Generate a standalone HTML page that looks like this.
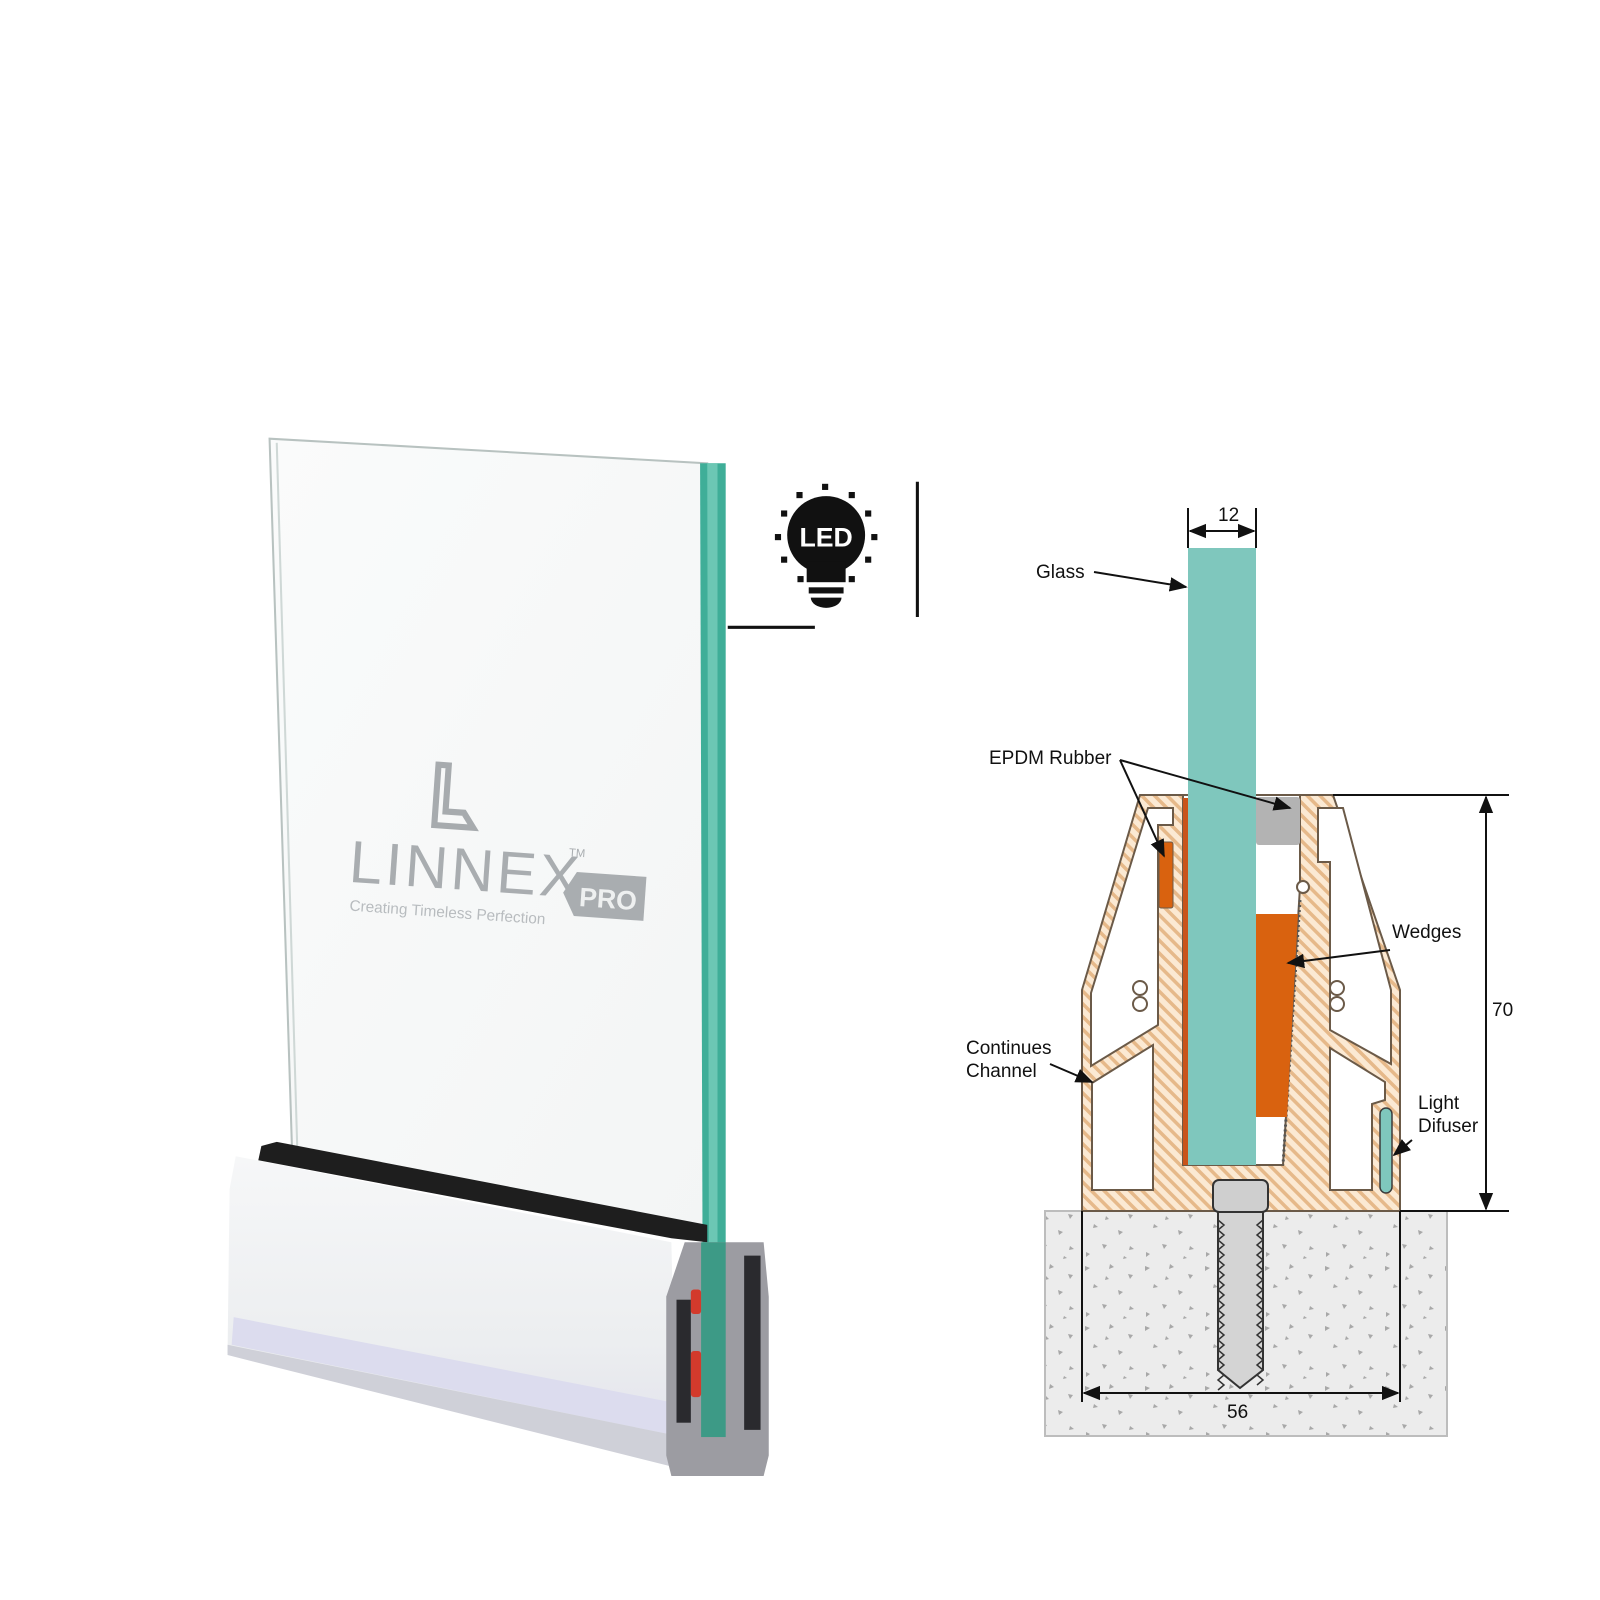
<!DOCTYPE html>
<html><head><meta charset="utf-8"><style>
html,body{margin:0;padding:0;background:#fff}
svg{display:block}
text{font-family:"Liberation Sans",sans-serif}
</style></head><body>
<svg width="1600" height="1600" viewBox="0 0 1600 1600" xmlns="http://www.w3.org/2000/svg">
<defs>
<pattern id="hatch" width="9" height="9" patternUnits="userSpaceOnUse" patternTransform="rotate(-45)">
<rect width="9" height="9" fill="#fbe9d3"/><rect width="3.5" height="9" fill="#e6b98a"/>
</pattern>
<pattern id="conc" width="60" height="60" patternUnits="userSpaceOnUse">
<rect width="60" height="60" fill="#ececec"/>
<path d="M5 6l5 2-5 3z M30 4l4 3-5 2z M48 14l5 1-3 4z M14 24l4 3-5 1z M38 30l5 2-4 3z M22 44l5 1-3 4z M50 46l4 3-5 1z M6 52l4 2-4 3z M26 16l3 3-4 1z M44 56l3 2-4 1z" fill="#a8a8a8"/>
</pattern>
<linearGradient id="face" x1="0" y1="0" x2="1" y2="1">
<stop offset="0" stop-color="#fafbfb"/><stop offset="1" stop-color="#f3f5f5"/></linearGradient>
<linearGradient id="base" x1="0" y1="0" x2="0" y2="1">
<stop offset="0" stop-color="#f6f7f8"/><stop offset="0.6" stop-color="#eceef0"/><stop offset="1" stop-color="#e0e0ea"/></linearGradient>
<marker id="ar" viewBox="0 0 10 10" refX="9" refY="5" markerWidth="9" markerHeight="9" orient="auto-start-reverse"><path d="M0 1L10 5L0 9z" fill="#111"/></marker>
</defs>

<g transform="scale(1.025)">
<polygon points="263,428 690,452 700,1200 285,1125" fill="url(#face)" stroke="#b8c2c0" stroke-width="2"/>
<line x1="270" y1="432" x2="290" y2="1120" stroke="#cfd8d6" stroke-width="2"/>
<polygon points="683,452 708,452 708,1405 686,1408" fill="#3fae98"/>
<polygon points="690,452 700,452 700,1405 692,1405" fill="#6cc7b4"/>
<g transform="rotate(4 480 860)" fill="#a7abae">
<path d="M420 750 h10 v45 h18 l10 14 h-38z" fill="none" stroke="#a7abae" stroke-width="6"/>
<text x="340" y="870" font-size="58" letter-spacing="3" fill="#a9adb0">LINNEX</text>
<text x="553" y="830" font-size="11" fill="#a9adb0">TM</text>
<polygon points="562,845 630,845 630,888 562,888 550,866" fill="#a9adb0"/>
<text x="566" y="878" font-size="26" font-weight="bold" fill="#eef0f0">PRO</text>
<text x="343" y="898" font-size="15" fill="#b8bcbf">Creating Timeless Perfection</text>
</g>
<polygon points="230,1128 655,1212 660,1430 222,1320 224,1160" fill="url(#base)"/>
<polygon points="228,1285 655,1368 657,1400 226,1312" fill="#dcdcee"/>
<polygon points="222,1312 657,1400 660,1432 222,1322" fill="#cfd0d8"/>
<polygon points="255,1118 270,1114 690,1195 690,1212 655,1208 252,1132" fill="#1e1e1e"/>
<polygon points="650,1265 668,1212 745,1212 750,1265 750,1420 745,1440 655,1440 650,1420" fill="#9c9ca2"/>
<rect x="660" y="1268" width="14" height="120" fill="#2a2a2e"/>
<rect x="726" y="1225" width="16" height="170" fill="#2a2a2e"/>
<rect x="684" y="1212" width="24" height="190" fill="#3d9a86"/>
<rect x="674" y="1258" width="10" height="24" rx="3" fill="#d33a2c"/>
<rect x="674" y="1318" width="10" height="45" rx="3" fill="#d33a2c"/>
<line x1="710" y1="612" x2="795" y2="612" stroke="#111" stroke-width="3"/>
<line x1="895" y1="470" x2="895" y2="602" stroke="#111" stroke-width="3"/>
<circle cx="806" cy="522" r="38" fill="#111"/>
<rect x="787" y="548" width="38" height="20" fill="#111"/>
<rect x="789" y="573" width="34" height="6" fill="#111"/>
<path d="M791 583 h30 a15 10 0 0 1 -30 0z" fill="#111"/>
<text x="806" y="533" font-size="26" font-weight="bold" fill="#fff" text-anchor="middle">LED</text>
<g fill="#111">
<rect x="802" y="472" width="6" height="6"/><rect x="777" y="480" width="6" height="6"/><rect x="828" y="480" width="6" height="6"/>
<rect x="762" y="498" width="6" height="6"/><rect x="844" y="498" width="6" height="6"/>
<rect x="756" y="521" width="6" height="6"/><rect x="850" y="521" width="6" height="6"/>
<rect x="762" y="543" width="6" height="6"/><rect x="844" y="543" width="6" height="6"/>
<rect x="778" y="562" width="6" height="6"/><rect x="828" y="562" width="6" height="6"/>
</g>
</g>

<rect x="1045" y="1211" width="402" height="225" fill="url(#conc)" stroke="#bdbdbd" stroke-width="2"/>
<polygon points="1140,795 1333,795 1400,990 1400,1211 1082,1211 1082,990" fill="url(#hatch)" stroke="#6b5a48" stroke-width="2"/>
<g fill="#fff" stroke="#6b5a48" stroke-width="2">
<polygon points="1148,808 1173,808 1173,825 1158,825 1158,1025 1091,1066 1091,993"/>
<polygon points="1092,1083 1153,1045 1153,1190 1092,1190"/>
<polygon points="1318,808 1343,808 1391,990 1391,1064 1330,1030 1330,862 1318,862"/>
<polygon points="1330,1048 1385,1082 1385,1100 1372,1104 1372,1190 1330,1190"/>
<polygon points="1183,795 1300,795 1300,887 1283,1165 1183,1165"/>
<circle cx="1140" cy="988" r="7"/><circle cx="1140" cy="1004" r="7"/>
<circle cx="1337" cy="988" r="7"/><circle cx="1337" cy="1004" r="7"/>
<circle cx="1303" cy="887" r="6"/>
</g>
<path d="M1300 900 l-17 265" stroke="#555" stroke-width="3" stroke-dasharray="2 3" fill="none"/>
<rect x="1183" y="798" width="6" height="367" fill="#c9541a"/>
<rect x="1159" y="842" width="14" height="66" rx="2" fill="#d9620f" stroke="#6b5a48"/>
<rect x="1256" y="797" width="44" height="48" rx="3" fill="#b3b3b3"/>
<polygon points="1256,914 1298,914 1287,1117 1256,1117" fill="#d9620f"/>
<rect x="1188" y="548" width="68" height="617" fill="#7fc7bd"/>
<rect x="1380" y="1108" width="12" height="85" rx="6" fill="#7fc7bd" stroke="#3c3c3c" stroke-width="1.5"/>
<rect x="1213" y="1180" width="55" height="32" rx="6" fill="#cfcfcf" stroke="#333" stroke-width="2"/>
<path d="M1218 1212 L1263 1212 L1263 1370 L1240 1388 L1218 1370 Z" fill="#d4d4d4" stroke="#333" stroke-width="2"/>
<path d="M1218 1220 l6 5 -6 5 6 5 -6 5 6 5 -6 5 6 5 -6 5 6 5 -6 5 6 5 -6 5 6 5 -6 5 6 5 -6 5 6 5 -6 5 6 5 -6 5 6 5 -6 5 6 5 -6 5 6 5 -6 5 6 5 -6 5 6 5 -6 5 6 5 -6 5 6 5 -6 5 M1263 1220 l-6 5 6 5 -6 5 6 5 -6 5 6 5 -6 5 6 5 -6 5 6 5 -6 5 6 5 -6 5 6 5 -6 5 6 5 -6 5 6 5 -6 5 6 5 -6 5 6 5 -6 5 6 5 -6 5 6 5 -6 5 6 5 -6 5 6 5 -6 5 6 5 -6 5" fill="none" stroke="#333" stroke-width="1.5"/>
<g stroke="#111" stroke-width="2" fill="none">
<line x1="1188" y1="508" x2="1188" y2="548"/><line x1="1256" y1="508" x2="1256" y2="548"/>
<line x1="1190" y1="531" x2="1254" y2="531" marker-start="url(#ar)" marker-end="url(#ar)"/>
<line x1="1333" y1="795" x2="1509" y2="795"/><line x1="1400" y1="1211" x2="1509" y2="1211"/>
<line x1="1486" y1="797" x2="1486" y2="1209" marker-start="url(#ar)" marker-end="url(#ar)"/>
<line x1="1082" y1="1211" x2="1082" y2="1402"/><line x1="1400" y1="1211" x2="1400" y2="1402"/>
<line x1="1084" y1="1393" x2="1398" y2="1393" marker-start="url(#ar)" marker-end="url(#ar)"/>
<line x1="1094" y1="572" x2="1186" y2="587" marker-end="url(#ar)"/>
<line x1="1120" y1="760" x2="1164" y2="856" marker-end="url(#ar)"/>
<line x1="1120" y1="760" x2="1290" y2="808" marker-end="url(#ar)"/>
<line x1="1390" y1="950" x2="1288" y2="963" marker-end="url(#ar)"/>
<line x1="1050" y1="1064" x2="1092" y2="1082" marker-end="url(#ar)"/>
<line x1="1412" y1="1140" x2="1394" y2="1155" marker-end="url(#ar)"/>
</g>
<g font-size="19" fill="#111">
<text x="1218" y="521">12</text>
<text x="1036" y="578">Glass</text>
<text x="989" y="764">EPDM Rubber</text>
<text x="1392" y="938">Wedges</text>
<text x="966" y="1054">Continues</text>
<text x="966" y="1077">Channel</text>
<text x="1418" y="1109">Light</text>
<text x="1418" y="1132">Difuser</text>
<text x="1492" y="1016">70</text>
<text x="1227" y="1418">56</text>
</g>
</svg>
</body></html>
